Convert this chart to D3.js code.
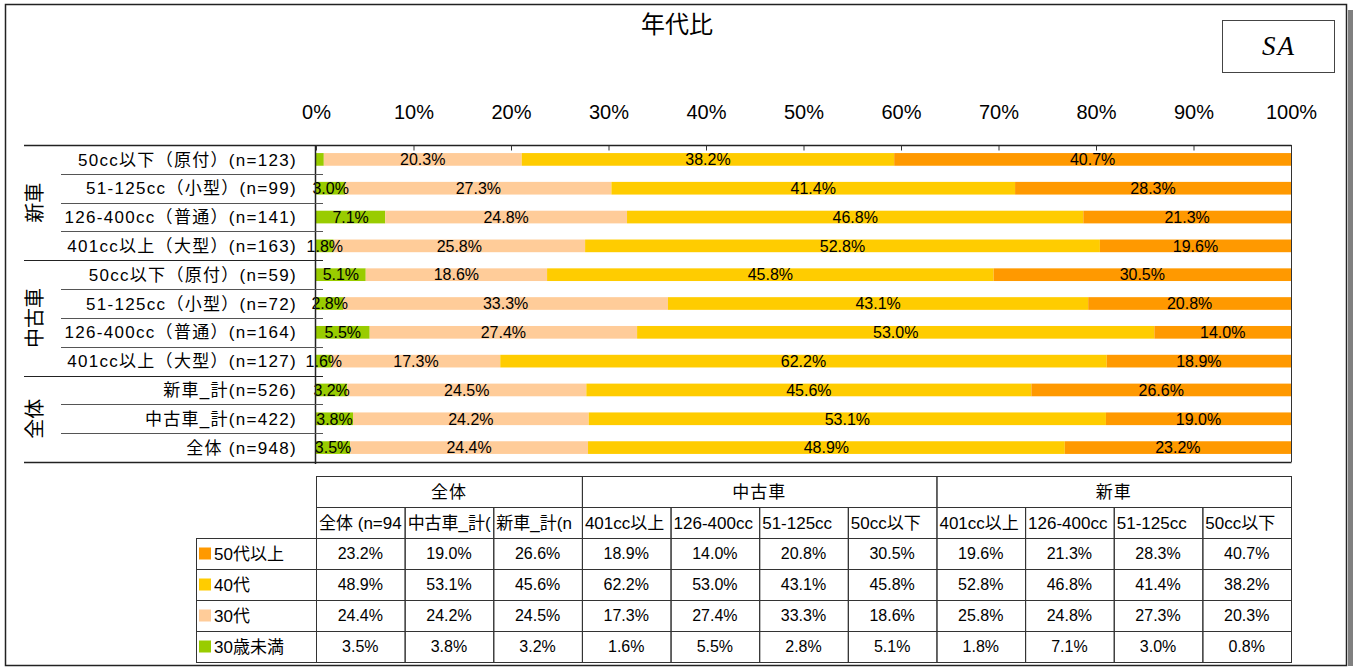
<!DOCTYPE html>
<html>
<head>
<meta charset="utf-8">
<script src="https://cdn.jsdelivr.net/npm/d3@7"></script>
<style>
body { margin: 0; background: #fff; }
text { font-family: "Liberation Sans", Arial, "Noto Sans CJK JP", sans-serif; fill: #000; }
</style>
</head>
<body>
<div id="chart"></div>
<script>
// categories in sheet order (= table left to right); the bar chart shows them bottom-up
const categories = [
    "全体 (n=948)", "中古車_計(n=422)", "新車_計(n=526)",
    "401cc以上（大型）(n=127)", "126-400cc（普通）(n=164)", "51-125cc（小型）(n=72)", "50cc以下（原付）(n=59)",
    "401cc以上（大型）(n=163)", "126-400cc（普通）(n=141)", "51-125cc（小型）(n=99)", "50cc以下（原付）(n=123)"
];
const groupNames = ["全体", "中古車", "新車"];
const groupSizes = [3, 4, 4];
const seriesNames = ["30歳未満", "30代", "40代", "50代以上"];
const under30 = [3.5, 3.8, 3.2, 1.6, 5.5, 2.8, 5.1, 1.8, 7.1, 3.0, 0.8];
const age30s  = [24.4, 24.2, 24.5, 17.3, 27.4, 33.3, 18.6, 25.8, 24.8, 27.3, 20.3];
const age40s  = [48.9, 53.1, 45.6, 62.2, 53.0, 43.1, 45.8, 52.8, 46.8, 41.4, 38.2];
const over50  = [23.2, 19.0, 26.6, 18.9, 14.0, 20.8, 30.5, 19.6, 21.3, 28.3, 40.7];
const xTicks = [0, 0.1, 0.2, 0.3, 0.4, 0.5, 0.6, 0.7, 0.8, 0.9, 1];

const colors = {"30歳未満": "#99CC00", "30代": "#FFCC99", "40代": "#FFCC00", "50代以上": "#FF9900"};
const seriesValues = {"30歳未満": under30, "30代": age30s, "40代": age40s, "50代以上": over50};

const W = 1356, H = 668;
const plot = {left: 316, right: 1291, top: 145, bottom: 462};

const rows = categories.map((c, i) => {
    const r = {cat: c, idx: i};
    seriesNames.forEach(s => r[s] = seriesValues[s][i]);
    return r;
});

const svg = d3.select("#chart").append("svg")
    .attr("width", W)
    .attr("height", H);

// frame with a little shadow on the right
svg.append("rect")
    .attr("x", 1348).attr("y", 10).attr("width", 5).attr("height", 656)
    .attr("fill", "#808080");
svg.append("rect")
    .attr("x", 5.5).attr("y", 4.5).attr("width", 1341).attr("height", 661)
    .attr("fill", "#fff").attr("stroke", "#222").attr("stroke-width", 1.5);

// title
svg.append("text")
    .attr("x", 677).attr("y", 33)
    .attr("text-anchor", "middle")
    .style("font-size", "24px")
    .text("年代比");

// SA box
svg.append("rect")
    .attr("x", 1222.5).attr("y", 20.5).attr("width", 112).attr("height", 52)
    .attr("fill", "#fff").attr("stroke", "#444");
svg.append("text")
    .attr("x", 1279).attr("y", 55)
    .attr("text-anchor", "middle")
    .style("font-family", "'Liberation Serif', 'Times New Roman', serif")
    .style("font-style", "italic")
    .style("font-size", "27px")
    .style("letter-spacing", "2px")
    .text("SA");

// scales: band positions by row index, since category names repeat between groups
const x = d3.scaleLinear().domain([0, 1]).range([plot.left, plot.right]);
const y = d3.scaleBand()
    .domain(d3.range(categories.length).reverse())
    .range([plot.top, plot.bottom])
    .paddingInner(0.56)
    .paddingOuter(0.28);

const stacked = d3.stack().keys(seriesNames).offset(d3.stackOffsetExpand)(rows);

// bars
svg.append("g").selectAll("g")
    .data(stacked)
    .join("g")
    .attr("fill", d => colors[d.key])
    .selectAll("rect")
    .data(d => d)
    .join("rect")
    .attr("x", d => x(d[0]))
    .attr("y", d => y(d.data.idx))
    .attr("width", d => x(d[1]) - x(d[0]))
    .attr("height", y.bandwidth());

// data labels (the 0.8% sliver has none in the original)
stacked.forEach(s => {
    svg.append("g").selectAll("text")
        .data(s.filter(d => d.data[s.key] >= 1))
        .join("text")
        .attr("x", d => (x(d[0]) + x(d[1])) / 2)
        .attr("y", d => y(d.data.idx) + y.bandwidth() / 2)
        .attr("dy", "0.36em")
        .attr("text-anchor", "middle")
        .style("font-size", "16px")
        .text(d => d3.format(".1f")(d.data[s.key]) + "%");
});

// plot box
svg.append("line")
    .attr("x1", plot.right + 0.5).attr("x2", plot.right + 0.5)
    .attr("y1", plot.top).attr("y2", plot.bottom)
    .attr("stroke", "#333");
svg.append("line")
    .attr("x1", plot.left - 0.5).attr("x2", plot.left - 0.5)
    .attr("y1", plot.top).attr("y2", plot.bottom + 2)
    .attr("stroke", "#222").attr("stroke-width", 1.5);
[plot.top, plot.bottom].forEach(yy => {
    svg.append("line")
        .attr("x1", 24).attr("x2", plot.right + 0.5)
        .attr("y1", yy + 0.5).attr("y2", yy + 0.5)
        .attr("stroke", "#222").attr("stroke-width", 1.3);
});

// top axis
svg.append("g")
    .attr("transform", `translate(0, ${plot.top + 0.5})`)
    .call(d3.axisTop(x).tickValues(xTicks).tickFormat(d3.format(".0%")).tickSize(-5).tickPadding(27))
    .call(g => g.select(".domain").remove())
    .call(g => g.selectAll(".tick line").attr("stroke", "#333"))
    .call(g => g.selectAll(".tick text")
        .style("font-family", "'Liberation Sans', Arial, sans-serif")
        .style("font-size", "20px"));

// row separators in the label area
const groupEnds = [];
let acc = 0;
groupSizes.forEach(n => { acc += n; groupEnds.push(acc); });
for (let k = 1; k < categories.length; k++) {
    const yy = plot.top + y.step() * k;
    const fromBottom = categories.length - k;
    const isGroup = groupEnds.includes(fromBottom);
    svg.append("line")
        .attr("x1", isGroup ? 24 : 61).attr("x2", 323)
        .attr("y1", Math.round(yy) + 0.5).attr("y2", Math.round(yy) + 0.5)
        .attr("stroke", isGroup ? "#222" : "#555");
}

// category labels
svg.append("g").selectAll("text")
    .data(rows)
    .join("text")
    .attr("x", 297)
    .attr("y", d => y(d.idx) + y.bandwidth() / 2)
    .attr("dy", "0.36em")
    .attr("text-anchor", "end")
    .style("font-size", "17px")
    .style("letter-spacing", "1.3px")
    .text(d => d.cat);

// group labels, turned to read bottom-up
let start = 0;
groupNames.forEach((g, gi) => {
    const first = start, last = start + groupSizes[gi] - 1;
    const yc = (y(first) + y(last)) / 2 + y.bandwidth() / 2;
    svg.append("text")
        .attr("transform", `translate(35, ${yc}) rotate(-90)`)
        .attr("text-anchor", "middle")
        .attr("dy", "0.36em")
        .style("font-size", "20px")
        .text(g);
    start += groupSizes[gi];
});

// data table
const tx = d3.scaleBand().domain(d3.range(categories.length)).range([plot.left, plot.right]);
const tTop = 476, rowH = 31;
const table = svg.append("g");

start = 0;
groupNames.forEach((g, gi) => {
    const x0 = tx(start), x1 = tx(start + groupSizes[gi] - 1) + tx.bandwidth();
    table.append("rect")
        .attr("x", x0 + 0.5).attr("y", tTop + 0.5)
        .attr("width", x1 - x0).attr("height", rowH)
        .attr("fill", "none").attr("stroke", "#333");
    table.append("text")
        .attr("x", (x0 + x1) / 2).attr("y", tTop + rowH / 2)
        .attr("dy", "0.36em")
        .attr("text-anchor", "middle")
        .style("font-size", "17px")
        .style("letter-spacing", "1px")
        .text(g);
    start += groupSizes[gi];
});

// column headers: cut to the cell width like the spreadsheet does
categories.forEach((c, i) => {
    const cx = tx(i);
    table.append("rect")
        .attr("x", cx + 0.5).attr("y", tTop + rowH + 0.5)
        .attr("width", tx.bandwidth()).attr("height", rowH)
        .attr("fill", "none").attr("stroke", "#333");
    const t = table.append("text")
        .attr("x", cx + 3).attr("y", tTop + rowH * 1.5)
        .attr("dy", "0.36em")
        .style("font-size", "17px")
        .text(c);
    let s = c;
    while (s.length > 1 && t.node().getComputedTextLength() > tx.bandwidth() - 5) {
        s = s.slice(0, -1);
        t.text(s);
    }
});

const tableSeries = seriesNames.slice().reverse();
tableSeries.forEach((s, r) => {
    const ry = tTop + rowH * (2 + r);
    table.append("rect")
        .attr("x", 196.5).attr("y", ry + 0.5)
        .attr("width", plot.left - 196).attr("height", rowH)
        .attr("fill", "none").attr("stroke", "#333");
    table.append("rect")
        .attr("x", 199).attr("y", ry + rowH / 2 - 6)
        .attr("width", 12).attr("height", 12)
        .attr("fill", colors[s]);
    table.append("text")
        .attr("x", 214).attr("y", ry + rowH / 2)
        .attr("dy", "0.36em")
        .style("font-size", "17px")
        .text(s);
    seriesValues[s].forEach((v, i) => {
        table.append("rect")
            .attr("x", tx(i) + 0.5).attr("y", ry + 0.5)
            .attr("width", tx.bandwidth()).attr("height", rowH)
            .attr("fill", "none").attr("stroke", "#333");
        table.append("text")
            .attr("x", tx(i) + tx.bandwidth() / 2).attr("y", ry + rowH / 2)
            .attr("dy", "0.36em")
            .attr("text-anchor", "middle")
            .style("font-size", "16px")
            .text(d3.format(".1f")(v) + "%");
    });
});
</script>
</body>
</html>
